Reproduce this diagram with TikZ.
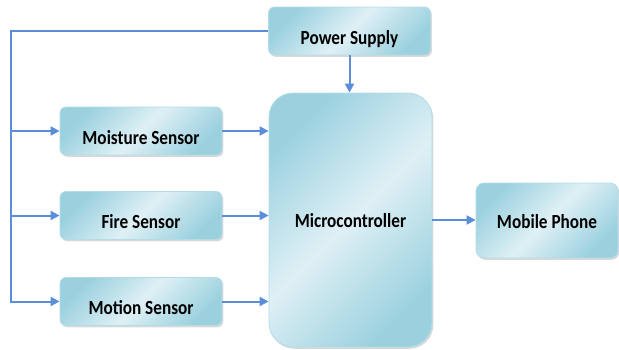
\documentclass[tikz,border=0pt]{standalone}
\usepackage{fontspec}
\setmainfont{Carlito}
\newfontfamily\boxfont{Carlito}[FakeStretch=0.86]
\usetikzlibrary{arrows.meta,positioning,shadows}
\definecolor{boxLight}{HTML}{DFF0F5}
\definecolor{boxDark}{HTML}{9BD1DF}
\definecolor{boxEdge}{HTML}{B3DCE7}
\definecolor{wireBlue}{HTML}{5B8ED8}

\begin{document}
\begin{tikzpicture}[
  x=0.5pt, y=-0.5pt,
  every node/.style={align=center, font=\boxfont\bfseries\fontsize{10}{11}\selectfont},
  box/.style={draw=boxEdge, rounded corners=3pt, left color=boxDark, right color=boxDark, middle color=boxLight, shading angle=45,
    drop shadow={shadow xshift=0.7pt, shadow yshift=-0.9pt, opacity=0.3},
    minimum width=81pt, minimum height=24pt, inner sep=0pt, text height=13pt, text depth=0pt},
  bigbox/.style={box, rounded corners=12pt, minimum width=81.5pt, minimum height=127pt, text height=7pt},
  wire/.style={-{Triangle[length=4.5pt, width=4.5pt]}, line width=1pt, wireBlue},
]
  \useasboundingbox (0,0) rectangle (619,349);

  \node[box] (pwr) at (349.5,31) {Power Supply};
  \node[bigbox] (micro) at (350.5,220) {Microcontroller};
  \node[box, rounded corners=4pt, minimum width=71pt, minimum height=37.5pt, text height=7.5pt] (phone) at (547,220.5) {Mobile Phone};
  \node[box] (moist) at (141,131) {Moisture Sensor};
  \node[box] (fire) at (141,215.5) {Fire Sensor};
  \node[box] (motion) at (141,301.5) {Motion Sensor};
  \coordinate (bus) at (11,31);

  \draw[wire] (pwr.west) -- (bus) |- (motion);
  \draw[wire] (bus |- moist) -- (moist);
  \draw[wire] (bus |- fire) -- (fire);
  \draw[wire] (pwr) -- (pwr |- micro.north);
  \draw[wire] (moist) -- (moist -| micro.west);
  \draw[wire] (fire) -- (fire -| micro.west);
  \draw[wire] (motion) -- (motion -| micro.west);
  \draw[wire] (micro) -- (micro -| phone.west);
\end{tikzpicture}
\end{document}
